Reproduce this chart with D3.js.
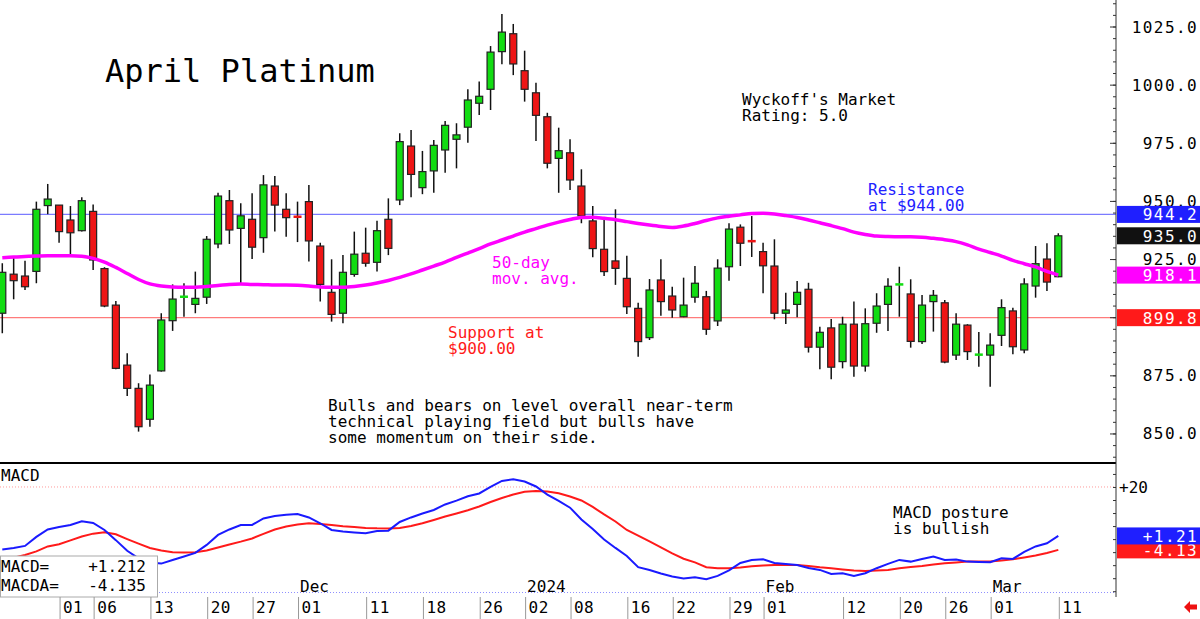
<!DOCTYPE html>
<html>
<head>
<meta charset="utf-8">
<script src="https://cdn.jsdelivr.net/npm/d3@7"></script>
<style>
  body { margin: 0; background: #fff; }
  svg { display: block; font-family: "DejaVu Sans Mono", monospace; }
</style>
</head>
<body>
<div id="chart"></div>
<script>
// trading days shown on the chart
const dates = [
  "2023-10-25","2023-10-26","2023-10-27","2023-10-30","2023-10-31",
  "2023-11-01","2023-11-02","2023-11-03","2023-11-06","2023-11-07","2023-11-08","2023-11-09","2023-11-10",
  "2023-11-13","2023-11-14","2023-11-15","2023-11-16","2023-11-17","2023-11-20","2023-11-21","2023-11-22",
  "2023-11-24","2023-11-27","2023-11-28","2023-11-29","2023-11-30",
  "2023-12-01","2023-12-04","2023-12-05","2023-12-06","2023-12-07","2023-12-08","2023-12-11","2023-12-12",
  "2023-12-13","2023-12-14","2023-12-15","2023-12-18","2023-12-19","2023-12-20","2023-12-21","2023-12-22",
  "2023-12-26","2023-12-27","2023-12-28","2023-12-29",
  "2024-01-02","2024-01-03","2024-01-04","2024-01-05","2024-01-08","2024-01-09","2024-01-10","2024-01-11",
  "2024-01-12","2024-01-16","2024-01-17","2024-01-18","2024-01-19","2024-01-22","2024-01-23","2024-01-24",
  "2024-01-25","2024-01-26","2024-01-29","2024-01-30","2024-01-31",
  "2024-02-01","2024-02-02","2024-02-05","2024-02-06","2024-02-07","2024-02-08","2024-02-09","2024-02-12",
  "2024-02-13","2024-02-14","2024-02-15","2024-02-16","2024-02-20","2024-02-21","2024-02-22","2024-02-23",
  "2024-02-26","2024-02-27","2024-02-28","2024-02-29",
  "2024-03-01","2024-03-04","2024-03-05","2024-03-06","2024-03-07","2024-03-08","2024-03-11"
];

const open = [
  901.7, 918.5, 917.7, 919.7, 948.0, 948.2, 941.8, 937.2, 945.5, 920.9,
  905.2, 879.4, 869.4, 856.1, 876.9, 898.5, 908.7, 905.5, 908.6, 931.5,
  950.1, 938.2, 942.1, 934.2, 956.4, 946.4, 943.5, 949.7, 930.6, 910.7,
  901.7, 918.4, 927.5, 923.6, 942.1, 950.4, 973.6, 955.7, 962.9, 971.9,
  976.5, 981.7, 992.0, 998.0, 1014.2, 1021.9, 1006.0, 996.5, 986.2, 968.3,
  970.7, 956.4, 941.4, 929.2, 924.2, 916.7, 903.8, 891.2, 916.0, 909.1,
  900.2, 908.6, 908.8, 898.4, 921.7, 938.7, 933.0, 928.2, 922.0, 901.7,
  905.5, 912.0, 887.1, 895.4, 880.9, 897.0, 879.0, 897.4, 905.5, 914.0,
  910.0, 889.5, 906.7, 906.2, 883.7, 896.6, 883.8, 883.7, 892.2, 902.7,
  885.9, 913.4, 925.0, 917.4
];
const high = [
  923.2, 926.3, 924.3, 949.7, 957.3, 948.2, 947.8, 951.6, 948.5, 921.5,
  907.0, 884.5, 871.6, 875.4, 901.7, 914.1, 914.6, 919.6, 934.9, 953.5,
  954.7, 949.0, 953.3, 961.1, 960.7, 953.3, 949.7, 956.8, 932.0, 924.9,
  926.7, 936.8, 938.5, 941.5, 951.1, 979.1, 980.5, 971.5, 976.2, 984.4,
  983.4, 998.0, 1001.3, 1016.6, 1030.4, 1026.1, 1014.6, 1000.8, 987.9, 981.5,
  976.5, 963.6, 947.8, 941.8, 946.4, 926.4, 906.2, 916.4, 924.9, 913.1,
  917.0, 922.0, 911.3, 924.9, 940.4, 939.9, 943.5, 932.0, 933.5, 910.5,
  915.6, 914.8, 895.9, 899.2, 900.2, 906.7, 903.8, 910.3, 916.7, 921.7,
  916.3, 909.5, 911.7, 907.4, 901.7, 897.0, 893.6, 893.1, 907.7, 904.1,
  916.7, 930.6, 931.8, 936.1
];
const low = [
  893.1, 907.7, 911.7, 914.6, 944.3, 932.0, 926.3, 936.8, 920.3, 904.3,
  877.6, 866.1, 850.8, 852.9, 876.6, 894.1, 900.2, 901.7, 905.7, 929.6,
  931.5, 914.6, 925.0, 927.7, 936.8, 934.6, 932.3, 923.9, 906.7, 898.1,
  897.4, 917.4, 921.7, 919.6, 926.7, 948.2, 951.6, 952.9, 953.5, 962.1,
  964.0, 975.0, 987.0, 989.1, 1008.8, 1004.1, 992.7, 975.8, 964.0, 953.5,
  954.7, 940.4, 925.8, 917.7, 913.9, 901.4, 883.0, 890.2, 900.6, 899.8,
  900.0, 906.2, 892.4, 896.2, 915.7, 922.0, 925.9, 910.3, 899.1, 897.1,
  900.0, 884.8, 877.6, 873.3, 878.0, 874.4, 876.6, 893.3, 894.1, 900.2,
  886.9, 888.5, 893.8, 880.2, 881.6, 881.6, 878.7, 870.1, 887.6, 884.1,
  884.5, 908.4, 911.3, 917.2
];
const close = [
  919.3, 915.7, 913.1, 946.4, 950.8, 936.8, 936.3, 950.1, 924.6, 904.8,
  878.0, 869.4, 852.9, 870.8, 898.8, 907.8, 908.9, 908.1, 933.5, 952.1,
  937.5, 943.6, 930.1, 956.9, 948.2, 942.8, 943.3, 932.8, 914.1, 901.2,
  919.3, 927.1, 923.2, 937.2, 929.6, 975.5, 961.4, 962.6, 973.9, 982.5,
  978.4, 993.4, 995.0, 1014.0, 1022.6, 1008.9, 998.0, 986.8, 966.2, 971.6,
  959.0, 943.5, 929.5, 919.6, 921.0, 904.5, 889.5, 911.7, 906.7, 903.1,
  905.2, 914.6, 894.8, 921.1, 937.9, 931.8, 932.8, 922.1, 901.7, 903.1,
  910.7, 887.1, 893.5, 878.5, 897.0, 879.0, 897.2, 904.8, 913.3, 914.2,
  889.6, 905.2, 909.4, 880.7, 897.0, 885.2, 884.0, 888.0, 904.1, 887.3,
  914.3, 923.0, 915.1, 935.0
];

// 50-day moving average
const ma50 = [
  925.6, 925.9, 926.1, 926.3, 926.4, 926.4, 926.4, 926.2, 925.3, 923.7,
  921.4, 918.8, 916.2, 914.3, 913.4, 913.0, 912.9, 912.9, 913.2, 913.6,
  914.1, 914.3, 914.1, 914.0, 913.8, 913.8, 913.7, 913.4, 913.0, 912.9,
  912.9, 913.2, 913.8, 914.7, 915.8, 917.1, 918.6, 920.3, 922.0, 923.7,
  925.7, 927.6, 929.5, 931.5, 933.2, 934.9, 936.6, 938.1, 939.6, 940.9,
  942.0, 942.9, 943.0, 942.5, 941.9, 941.1, 940.3, 939.6, 939.0, 938.6,
  939.2, 940.3, 941.6, 942.7, 943.4, 944.0, 944.6, 944.7, 944.4, 943.7,
  942.9, 941.8, 940.6, 939.4, 938.1, 936.6, 935.6, 934.9, 934.7, 934.6,
  934.6, 934.4, 933.9, 933.3, 932.5, 931.1, 929.3, 927.8, 926.3, 924.4,
  923.0, 921.6, 919.7, 918.1
];

// MACD (blue) and its average (red)
const macd = [
  -3.97, -3.39, -2.62, 0.83, 3.70, 4.66, 5.43, 6.85, 6.20, 3.51,
  -0.40, -4.50, -7.40, -9.00, -9.40, -8.00, -6.70, -5.30, -2.24, 1.60,
  3.70, 5.43, 5.43, 7.92, 8.88, 9.38, 9.65, 8.31, 6.08, 3.51,
  2.94, 2.55, 2.25, 3.13, 3.24, 6.58, 8.31, 9.84, 11.18, 13.29,
  14.75, 16.43, 17.51, 20.00, 22.30, 22.95, 22.11, 20.19, 17.05, 14.63,
  12.06, 7.54, 3.90, -0.13, -3.39, -6.46, -10.79, -11.83, -13.17, -14.32,
  -15.16, -14.62, -15.39, -14.13, -12.02, -9.14, -7.99, -7.72, -9.14, -9.52,
  -9.91, -11.06, -11.83, -13.36, -13.09, -14.13, -13.09, -11.17, -9.52, -7.99,
  -8.64, -7.61, -6.65, -7.99, -7.80, -8.64, -8.76, -8.87, -7.34, -7.61,
  -4.92, -2.81, -1.59, 1.212
];
const macdAvg = [
  -7.99, -7.11, -6.07, -4.73, -2.81, -2.00, -0.50, 0.98, 2.09, 2.60,
  1.83, 0.00, -1.74, -3.39, -4.35, -5.04, -5.12, -5.04, -4.35, -3.20,
  -2.05, -0.97, 0.25, 1.98, 3.70, 4.85, 5.62, 6.08, 5.81, 5.43,
  4.93, 4.60, 4.30, 4.15, 4.10, 4.30, 5.05, 6.08, 7.35, 8.69,
  9.84, 11.07, 12.52, 14.25, 15.78, 17.12, 18.20, 18.47, 18.27, 17.58,
  16.36, 14.82, 12.33, 9.46, 6.77, 3.51, 1.33, -0.90, -3.20, -5.50,
  -7.53, -8.95, -10.79, -11.17, -11.17, -10.87, -10.41, -10.10, -9.91, -9.91,
  -9.91, -10.29, -10.79, -11.17, -11.63, -12.02, -12.21, -12.02, -11.83, -11.17,
  -10.67, -10.29, -9.72, -9.26, -8.95, -8.64, -8.64, -8.57, -8.18, -7.72,
  -7.03, -6.27, -5.31, -4.135
];

const resistance = 944.2;
const support = 899.8;

const priceTicks = [850, 875, 900, 925, 950, 975, 1000, 1025];
const tickDates = [
  "2023-11-01","2023-11-06","2023-11-13","2023-11-20","2023-11-27","2023-12-01","2023-12-11",
  "2023-12-18","2023-12-26","2024-01-02","2024-01-08","2024-01-16","2024-01-22","2024-01-29",
  "2024-02-01","2024-02-12","2024-02-20","2024-02-26","2024-03-01","2024-03-11"
];
const monthDates = ["2023-12-01", "2024-01-02", "2024-02-01", "2024-03-01"];
const monthNames = ["Dec", "2024", "Feb", "Mar"];

// ---- layout
const W = 1200, H = 619;
const axisX = 1116;
const mainBottom = 463, macdBottom = 592;

const svg = d3.select("#chart").append("svg")
    .attr("width", W).attr("height", H);

const x = d3.scalePoint().domain(dates).range([2.3, 1058.3]);
const y = d3.scaleLinear().domain([837.3, 1036.4]).range([mainBottom, 0]);
const ym = d3.scaleLinear().domain([-20.3, 29.2]).range([macdBottom, mainBottom]);

const sign = (v, n) => (v >= 0 ? "+" : "-") + Math.abs(v).toFixed(n);

// support / resistance
svg.append("line").attr("x1", 0).attr("x2", axisX)
    .attr("y1", y(resistance)).attr("y2", y(resistance))
    .attr("stroke", "#7b7bff").attr("stroke-width", 1.2);
svg.append("line").attr("x1", 0).attr("x2", axisX)
    .attr("y1", y(support)).attr("y2", y(support))
    .attr("stroke", "#ff7b7b").attr("stroke-width", 1.2);

// candles
const candles = dates.map((d, i) => ({ d, o: open[i], h: high[i], l: low[i], c: close[i] }));
const cg = svg.append("g");
cg.selectAll("line").data(candles).join("line")
    .attr("x1", d => x(d.d)).attr("x2", d => x(d.d))
    .attr("y1", d => y(d.h)).attr("y2", d => y(d.l))
    .attr("stroke", "#111").attr("stroke-width", 1.5);
cg.selectAll("rect.body").data(candles.filter(d => Math.abs(d.c - d.o) >= 0.5)).join("rect")
    .attr("class", "body")
    .attr("x", d => x(d.d) - 3.5).attr("width", 7)
    .attr("y", d => y(Math.max(d.o, d.c)))
    .attr("height", d => Math.abs(y(d.o) - y(d.c)))
    .attr("fill", d => d.c > d.o ? "#12dc12" : "#ee1515")
    .attr("stroke", "#222").attr("stroke-width", 1.2);
cg.selectAll("rect.doji").data(candles.filter(d => Math.abs(d.c - d.o) < 0.5)).join("rect")
    .attr("class", "doji")
    .attr("x", d => x(d.d) - 4).attr("width", 8)
    .attr("y", d => y(d.c) - 1).attr("height", 2.5)
    .attr("fill", d => d.c > d.o ? "#12dc12" : "#ee1515");

// 50 day average
svg.append("path")
    .attr("d", d3.line().x((v, i) => x(dates[i])).y(v => y(v)).curve(d3.curveMonotoneX)(ma50))
    .attr("fill", "none").attr("stroke", "#ff00ff").attr("stroke-width", 3.5);

// main panel texts
const txt = (s, tx, ty, size, color) => svg.append("text")
    .attr("x", tx).attr("y", ty).attr("font-size", size).attr("fill", color || "#000").text(s);

txt("April Platinum", 105, 82, 32);
txt("Wyckoff's Market", 742, 105, 16);
txt("Rating: 5.0", 742, 121, 16);
txt("Resistance", 868, 195, 16, "#2222ff");
txt("at $944.00", 868, 211, 16, "#2222ff");
txt("50-day", 492, 268, 16, "#ff00ff");
txt("mov. avg.", 492, 284, 16, "#ff00ff");
txt("Support at", 448, 338, 16, "#ff1a1a");
txt("$900.00", 448, 354, 16, "#ff1a1a");
txt("Bulls and bears on level overall near-term", 328, 411, 16);
txt("technical playing field but bulls have", 328, 427, 16);
txt("some momentum on their side.", 328, 443, 16);

// panel separator
svg.append("line").attr("x1", 0).attr("x2", axisX)
    .attr("y1", mainBottom).attr("y2", mainBottom)
    .attr("stroke", "#000").attr("stroke-width", 1.8);

// MACD panel
svg.append("line").attr("x1", 0).attr("x2", axisX)
    .attr("y1", ym(20)).attr("y2", ym(20))
    .attr("stroke", "#ff9a9a").attr("stroke-width", 1).attr("stroke-dasharray", "1,2");
svg.append("line").attr("x1", 0).attr("x2", axisX)
    .attr("y1", macdBottom + 0.5).attr("y2", macdBottom + 0.5)
    .attr("stroke", "#8f8fff").attr("stroke-width", 1).attr("stroke-dasharray", "1,2");

const mline = d3.line().x((v, i) => x(dates[i])).y(v => ym(v));
svg.append("path").attr("d", mline(macdAvg))
    .attr("fill", "none").attr("stroke", "#ff1a1a").attr("stroke-width", 2);
svg.append("path").attr("d", mline(macd))
    .attr("fill", "none").attr("stroke", "#1a1aff").attr("stroke-width", 2);

txt("MACD", 1, 481, 16);
txt("MACD posture", 893, 518, 16);
txt("is bullish", 893, 534, 16);

// legend box
svg.append("rect").attr("x", 0.5).attr("y", 556).attr("width", 157).attr("height", 41)
    .attr("fill", "#fff").attr("stroke", "#aaa");
txt("MACD=", 1, 572, 16);
txt("MACDA=", 1, 591, 16);
svg.append("text").attr("x", 146).attr("y", 572).attr("font-size", 16)
    .attr("text-anchor", "end").text(sign(macd[macd.length - 1], 3));
svg.append("text").attr("x", 146).attr("y", 591).attr("font-size", 16)
    .attr("text-anchor", "end").text(sign(macdAvg[macdAvg.length - 1], 3));

// month labels sit on the dotted base line
monthDates.forEach((d, i) => {
  const t = svg.append("text").attr("x", x(d) + 2.5).attr("y", 592)
      .attr("font-size", 16).text(monthNames[i]);
  const w = t.node().getComputedTextLength();
  svg.insert("rect", "text").attr("x", x(d)).attr("y", 578)
      .attr("width", w + 6).attr("height", 17).attr("fill", "#fff");
});

// right axis
svg.append("line").attr("x1", axisX).attr("x2", axisX).attr("y1", 0).attr("y2", 597)
    .attr("stroke", "#333").attr("stroke-width", 1);
svg.append("g").attr("transform", `translate(${axisX},0)`)
    .call(d3.axisRight(y).tickValues(d3.range(840, 1036, 5)).tickSize(-3).tickFormat(""))
    .call(g => g.select(".domain").remove())
    .call(g => g.selectAll("line").attr("stroke", "#333"));
svg.append("g").attr("transform", `translate(${axisX},0)`)
    .call(d3.axisRight(y).tickValues(priceTicks).tickSize(-6).tickFormat(""))
    .call(g => g.select(".domain").remove())
    .call(g => g.selectAll("line").attr("stroke", "#333"));
svg.append("g").attr("transform", `translate(${axisX},0)`)
    .call(d3.axisRight(ym).tickValues(d3.range(-20, 30, 5)).tickSize(-3).tickFormat(""))
    .call(g => g.select(".domain").remove())
    .call(g => g.selectAll("line").attr("stroke", "#333"));

svg.selectAll("text.ylab").data(priceTicks).join("text")
    .attr("class", "ylab")
    .attr("x", 1198).attr("y", d => y(d) + 6)
    .attr("text-anchor", "end").attr("font-size", 16).attr("letter-spacing", 1.4)
    .text(d => d.toFixed(1));
txt("+20", 1119, ym(20) + 6, 16);

// value boxes on the right
const valueBoxes = [
  { v: resistance, fill: "#1f1fff", s: resistance.toFixed(1), sc: y },
  { v: close[close.length - 1], fill: "#111", s: close[close.length - 1].toFixed(1), sc: y },
  { v: ma50[ma50.length - 1], fill: "#ff00ff", s: ma50[ma50.length - 1].toFixed(1), sc: y },
  { v: support, fill: "#ff1a1a", s: support.toFixed(1), sc: y },
  { v: macdAvg[macdAvg.length - 1], fill: "#ff1a1a", s: sign(macdAvg[macdAvg.length - 1], 2), sc: ym },
  { v: macd[macd.length - 1], fill: "#1f1fff", s: sign(macd[macd.length - 1], 2), sc: ym }
];
const vb = svg.selectAll("g.vbox").data(valueBoxes).join("g").attr("class", "vbox");
vb.append("rect").attr("x", axisX + 1).attr("width", W - axisX - 1)
    .attr("y", d => d.sc(d.v) - 8.5).attr("height", 17).attr("fill", d => d.fill);
vb.append("text").attr("x", 1198).attr("y", d => d.sc(d.v) + 6)
    .attr("text-anchor", "end").attr("font-size", 16).attr("letter-spacing", 1.4)
    .attr("fill", "#fff").text(d => d.s);

// date axis
svg.selectAll("line.xt").data(tickDates).join("line")
    .attr("class", "xt")
    .attr("x1", d => x(d) + 1).attr("x2", d => x(d) + 1)
    .attr("y1", 597).attr("y2", 619)
    .attr("stroke", "#999");
svg.selectAll("text.xl").data(tickDates).join("text")
    .attr("class", "xl")
    .attr("x", d => x(d) + 4).attr("y", 613)
    .attr("font-size", 16).attr("letter-spacing", 0.4)
    .text(d => d.slice(8));

// little red arrow bottom right
svg.append("path")
    .attr("d", "M1184,607 L1190,601 L1190,604.5 L1197,604.5 L1197,609.5 L1190,609.5 L1190,613 Z")
    .attr("fill", "#ee1111");
</script>
</body>
</html>
